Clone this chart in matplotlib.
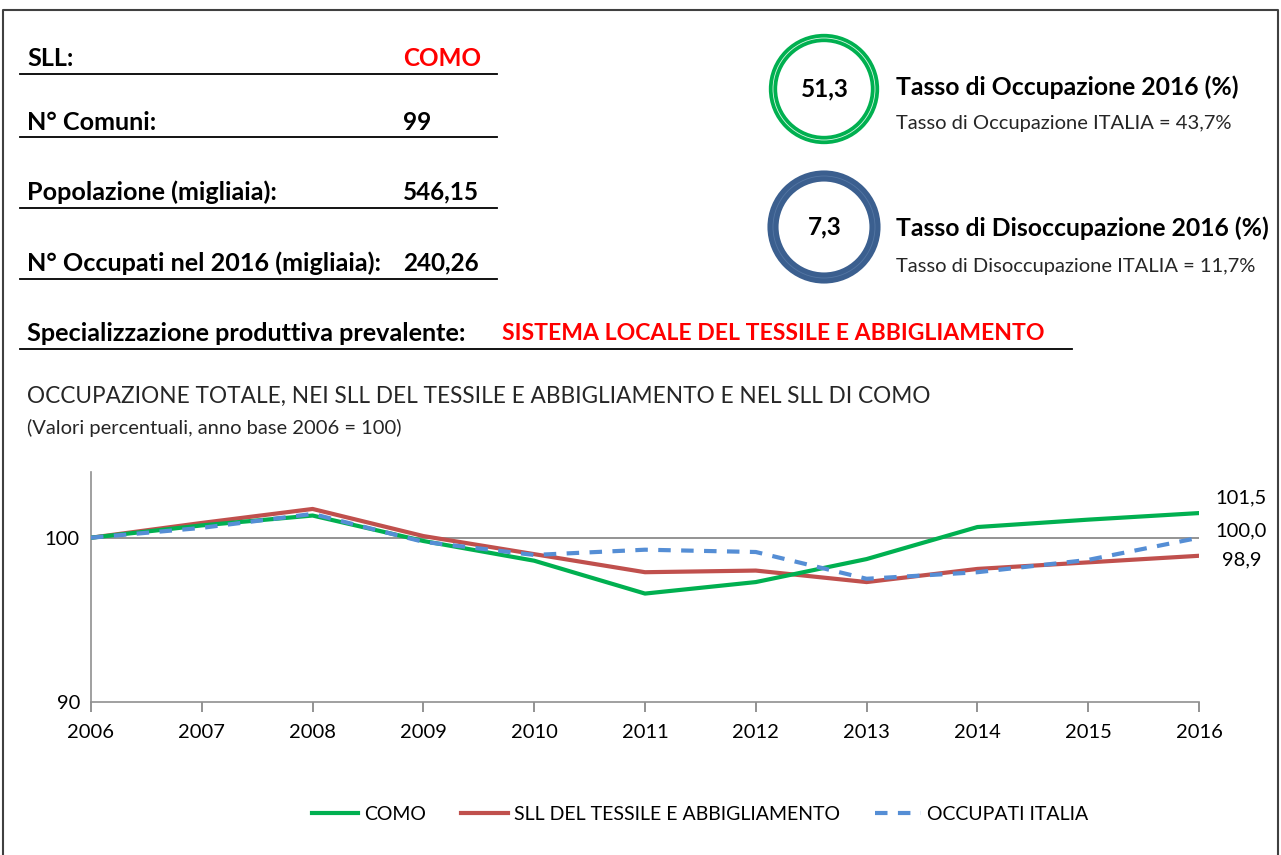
#!/usr/bin/python3
#
# scheda SLL di Como - occupazione 2006-2016
#
import matplotlib
matplotlib.use('Agg')
import matplotlib.pyplot as plt
from matplotlib.patches import Circle
#
# data
#
years = [2006, 2007, 2008, 2009, 2010, 2011, 2012, 2013, 2014, 2015, 2016]
como = [100.0, 100.75, 101.35, 99.8, 98.6, 96.6, 97.3, 98.7, 100.65, 101.1, 101.5]
sll_tessile = [100.0, 100.9, 101.75, 100.1, 99.0, 97.9, 98.0, 97.3, 98.1, 98.5, 98.9]
occupati_italia = [100.0, 100.6, 101.45, 99.75, 98.95, 99.27, 99.13, 97.5, 97.9, 98.65, 100.0]
series_names = ['COMO', 'SLL DEL TESSILE E ABBIGLIAMENTO', 'OCCUPATI ITALIA']
end_labels = ['101,5', '100,0', '98,9']
#
info_labels = ['SLL:', 'N° Comuni:', 'Popolazione (migliaia):',
               'N° Occupati nel 2016 (migliaia):']
info_values = ['COMO', '99', '546,15', '240,26']
tasso_occ = '51,3'
tasso_dis = '7,3'
#
W, H = 1281, 855
plt.rcParams['font.family'] = ['Lato', 'DejaVu Sans']
fig = plt.figure(figsize=(W / 100, H / 100), dpi=100)
#
# overlay in pixel coordinates for the header part
#
ov = fig.add_axes([0, 0, 1, 1])
ov.set_xlim(0, W)
ov.set_ylim(H, 0)
ov.axis('off')
#
# frame
ov.plot([3, 3, 1278, 1278], [H + 5, 10, 10, H + 5], color='#404040', lw=1.5)
#
# info table
big = 17.5
rows_y = [58, 122, 192, 263]
line_y = [74, 137, 208, 279]
for lab, val, ty, ly in zip(info_labels, info_values, rows_y, line_y):
    ov.text(27, ty, lab, fontsize=18.1, fontweight='bold', va='center', ha='left')
    ov.text(403, ty, val, fontsize=big, fontweight='bold', va='center', ha='left',
            color='#FF0000' if val == 'COMO' else 'black')
    ov.plot([20, 497], [ly, ly], color='black', lw=1.3)
#
ov.text(27, 333, 'Specializzazione produttiva prevalente:', fontsize=18.2,
        fontweight='bold', va='center')
ov.text(502, 333, 'SISTEMA LOCALE DEL TESSILE E ABBIGLIAMENTO', fontsize=16.6,
        fontweight='bold', va='center', color='#FF0000')
ov.plot([20, 1072], [349, 349], color='black', lw=1.3)
#
# circles
ov.add_patch(Circle((824, 89), 51, fill=False, ec='#00B050', lw=6))
ov.add_patch(Circle((824, 89), 51, fill=False, ec='#D8F5E2', lw=0.6))
ov.add_patch(Circle((824, 227), 51, fill=False, ec='#3B5F8F', lw=8))
ov.add_patch(Circle((824, 227), 51, fill=False, ec='#5476A3', lw=0.6))
ov.text(825, 89, tasso_occ, fontsize=big, fontweight='bold', ha='center', va='center')
ov.text(825, 227, tasso_dis, fontsize=big, fontweight='bold', ha='center', va='center')
#
ov.text(896, 87, 'Tasso di Occupazione 2016 (%)', fontsize=17.8,
        fontweight='bold', va='center')
ov.text(896, 124, 'Tasso di Occupazione ITALIA = 43,7%', fontsize=14.5,
        va='center', color='#262626')
ov.text(896, 228, 'Tasso di Disoccupazione 2016 (%)', fontsize=17.8,
        fontweight='bold', va='center')
ov.text(896, 266, 'Tasso di Disoccupazione ITALIA = 11,7%', fontsize=14.5,
        va='center', color='#262626')
#
# chart titles
ov.text(27, 396, 'OCCUPAZIONE TOTALE, NEI SLL DEL TESSILE E ABBIGLIAMENTO E NEL SLL DI COMO',
        fontsize=16.3, va='center', color='#262626')
ov.text(27, 428, '(Valori percentuali, anno base 2006 = 100)', fontsize=14.5,
        va='center', color='#262626')
#
# line chart
#
ax = fig.add_axes([91 / W, 1 - 702 / H, 1108 / W, 230 / H])
ax.patch.set_alpha(0)
#
ax.axhline(100, color='#808080', lw=1.2, zorder=1)
ax.plot(years, como, color='#00B050', lw=3, label=series_names[0], zorder=3)
ax.plot(years, sll_tessile, color='#C0504D', lw=3, label=series_names[1], zorder=2)
ax.plot(years, occupati_italia, color='#558ED5', lw=3, dashes=(3, 2.5),
        label=series_names[2], zorder=4)
#
ax.set_xlim(2006, 2016)
ax.set_ylim(90, 104)
ax.set_xticks(years)
ax.set_yticks([90, 100])
ax.tick_params(axis='both', labelsize=14.5, colors='#808080', labelcolor='black')
ax.tick_params(axis='x', length=7, width=1.2, direction='out', pad=9)
ax.tick_params(axis='y', length=0, pad=8)
for side in ['top', 'right']:
    ax.spines[side].set_visible(False)
for side in ['left', 'bottom']:
    ax.spines[side].set_color('#909090')
    ax.spines[side].set_linewidth(1.2)
#
# end-of-line labels
offsets = [(11.5, 11), (11.5, 5), (16.5, -3)]
for vals, lab, off in zip([como, occupati_italia, sll_tessile], end_labels, offsets):
    ax.annotate(lab, xy=(years[-1], vals[-1]), xytext=off,
                textcoords='offset points', fontsize=14.5, va='center', ha='left')
#
leg = ax.legend(loc='center', bbox_to_anchor=(700 / W, 1 - 814 / H),
                bbox_transform=fig.transFigure, ncol=3, frameon=False,
                fontsize=14, handlelength=2.4, handletextpad=0.3,
                columnspacing=1.8)
#
fig.savefig('out.png', dpi=100)
